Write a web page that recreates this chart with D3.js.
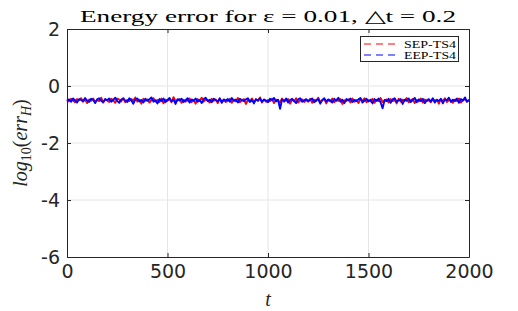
<!DOCTYPE html>
<html><head><meta charset="utf-8">
<script src="https://cdn.jsdelivr.net/npm/d3@7"></script>
<style>body{margin:0;background:#fff}svg{display:block}</style>
</head><body>
<script>
const xTicks = [0, 500, 1000, 1500, 2000];
const yTicks = [-6, -4, -2, 0, 2];
const seriesNames = ["SEP-TS4", "EEP-TS4"];
const seriesColors = ["#ff0000", "#0000ff"];
const tStep = 10;
const sepValues = [
-0.49,-0.54,-0.45,-0.51,-0.57,-0.46,-0.50,-0.43,-0.55,-0.48,-0.60,-0.47,-0.52,-0.44,-0.56,-0.49,-0.53,-0.41,-0.58,-0.47,
-0.51,-0.56,-0.45,-0.50,-0.59,-0.44,-0.48,-0.54,-0.42,-0.57,-0.49,-0.53,-0.46,-0.51,-0.40,-0.55,-0.48,-0.62,-0.45,-0.52,
-0.47,-0.58,-0.50,-0.43,-0.54,-0.49,-0.56,-0.44,-0.61,-0.48,-0.52,-0.45,-0.57,-0.39,-0.53,-0.50,-0.46,-0.59,-0.48,-0.55,
-0.51,-0.44,-0.57,-0.49,-0.62,-0.46,-0.53,-0.41,-0.55,-0.48,-0.50,-0.58,-0.45,-0.52,-0.47,-0.60,-0.43,-0.54,-0.49,-0.56,
-0.52,-0.45,-0.59,-0.48,-0.54,-0.42,-0.57,-0.50,-0.46,-0.63,-0.49,-0.53,-0.44,-0.56,-0.48,-0.51,-0.40,-0.58,-0.47,-0.55,
-0.49,-0.53,-0.45,-0.60,-0.48,-0.52,-0.57,-0.44,-0.55,-0.50,-0.46,-0.62,-0.48,-0.54,-0.43,-0.58,-0.51,-0.47,-0.56,-0.49,
-0.55,-0.45,-0.59,-0.48,-0.53,-0.41,-0.56,-0.50,-0.47,-0.61,-0.49,-0.54,-0.44,-0.57,-0.48,-0.52,-0.46,-0.63,-0.50,-0.53,
-0.47,-0.58,-0.44,-0.55,-0.49,-0.60,-0.46,-0.52,-0.43,-0.57,-0.50,-0.54,-0.45,-0.59,-0.48,-0.53,-0.42,-0.56,-0.51,-0.47,
-0.58,-0.46,-0.53,-0.49,-0.61,-0.45,-0.55,-0.48,-0.52,-0.42,-0.57,-0.50,-0.46,-0.60,-0.49,-0.54,-0.44,-0.58,-0.47,-0.53,
-0.50,-0.57,-0.45,-0.52,-0.48,-0.62,-0.46,-0.54,-0.43,-0.56,-0.49,-0.51,-0.59,-0.47,-0.53,-0.44,-0.58,-0.50,-0.46,-0.55,
-0.51];
const eepValues = [
-0.52,-0.47,-0.55,-0.44,-0.50,-0.58,-0.46,-0.49,-0.53,-0.42,-0.51,-0.56,-0.45,-0.48,-0.60,-0.47,-0.43,-0.52,-0.57,-0.46,
-0.50,-0.44,-0.55,-0.49,-0.41,-0.53,-0.59,-0.47,-0.45,-0.51,-0.56,-0.43,-0.50,-0.62,-0.48,-0.44,-0.54,-0.49,-0.58,-0.45,
-0.52,-0.47,-0.40,-0.55,-0.50,-0.61,-0.46,-0.53,-0.44,-0.57,-0.49,-0.42,-0.54,-0.48,-0.63,-0.46,-0.51,-0.45,-0.56,-0.50,
-0.43,-0.58,-0.47,-0.52,-0.44,-0.55,-0.49,-0.60,-0.46,-0.41,-0.53,-0.48,-0.57,-0.45,-0.50,-0.54,-0.44,-0.59,-0.47,-0.51,
-0.46,-0.55,-0.42,-0.52,-0.48,-0.58,-0.45,-0.50,-0.53,-0.47,-0.43,-0.56,-0.49,-0.61,-0.46,-0.52,-0.44,-0.55,-0.48,-0.51,
-0.57,-0.45,-0.50,-0.42,-0.54,-0.48,-0.80,-0.47,-0.53,-0.44,-0.58,-0.49,-0.45,-0.52,-0.60,-0.47,-0.43,-0.55,-0.50,-0.46,
-0.53,-0.48,-0.44,-0.57,-0.50,-0.46,-0.62,-0.49,-0.43,-0.54,-0.47,-0.51,-0.58,-0.45,-0.52,-0.41,-0.55,-0.48,-0.60,-0.46,
-0.50,-0.44,-0.56,-0.49,-0.53,-0.47,-0.42,-0.58,-0.51,-0.45,-0.54,-0.48,-0.61,-0.46,-0.52,-0.44,-0.57,-0.78,-0.49,-0.53,
-0.45,-0.59,-0.47,-0.43,-0.55,-0.50,-0.46,-0.63,-0.48,-0.52,-0.44,-0.56,-0.49,-0.42,-0.57,-0.47,-0.53,-0.45,-0.60,-0.50,
-0.46,-0.54,-0.43,-0.58,-0.49,-0.52,-0.45,-0.61,-0.47,-0.50,-0.41,-0.56,-0.48,-0.53,-0.44,-0.59,-0.46,-0.51,-0.40,-0.55,
-0.48];

const W = 518, H = 311;
const m = {left: 67, right: 49, top: 29, bottom: 54};
const svg = d3.select("body").append("svg").attr("width", W).attr("height", H);
const x = d3.scaleLinear().domain([0, 2000]).range([m.left, W - m.right]);
const y = d3.scaleLinear().domain([-6, 2]).range([H - m.bottom, m.top]);
const axisColor = "#262626";
const fmt = d => String(d);

// grid
svg.append("g").selectAll("line").data(xTicks.slice(1, -1)).join("line")
  .attr("x1", d => x(d)).attr("x2", d => x(d)).attr("y1", y(-6)).attr("y2", y(2))
  .attr("stroke", "#e6e6e6").attr("stroke-width", 1);
svg.append("g").selectAll("line").data(yTicks.slice(1, -1)).join("line")
  .attr("y1", d => y(d)).attr("y2", d => y(d)).attr("x1", x(0)).attr("x2", x(2000))
  .attr("stroke", "#e6e6e6").attr("stroke-width", 1);

// data
const series = [sepValues, eepValues];
const line = d3.line().x((d, i) => x(i * tStep)).y(d => y(d));
series.forEach((vals, k) => {
  svg.append("path").datum(vals).attr("d", line)
    .attr("fill", "none").attr("stroke", seriesColors[k]).attr("stroke-width", 1.9)
    .attr("stroke-linejoin", "round");
});

// axes
const fontTick = "'DejaVu Sans', sans-serif";
const gx = svg.append("g").attr("transform", `translate(0,${y(-6)})`)
  .call(d3.axisBottom(x).tickValues(xTicks).tickFormat(fmt).tickSizeInner(-4).tickSizeOuter(0).tickPadding(8));
const gx2 = svg.append("g").attr("transform", `translate(0,${y(2)})`)
  .call(d3.axisTop(x).tickValues(xTicks).tickSizeInner(-4).tickSizeOuter(0).tickFormat(""));
const gy = svg.append("g").attr("transform", `translate(${x(0)},0)`)
  .call(d3.axisLeft(y).tickValues(yTicks).tickFormat(fmt).tickSizeInner(-4).tickSizeOuter(0).tickPadding(7));
const gy2 = svg.append("g").attr("transform", `translate(${x(2000)},0)`)
  .call(d3.axisRight(y).tickValues(yTicks).tickSizeInner(-4).tickSizeOuter(0).tickFormat(""));
[gx, gx2, gy, gy2].forEach(g => {
  g.select(".domain").attr("stroke", axisColor);
  g.selectAll(".tick line").attr("stroke", axisColor);
  g.selectAll("text").attr("fill", axisColor).attr("font-family", fontTick).attr("font-size", 19);
});
gx.selectAll("text").attr("dy", "0.71em");

// title
svg.append("text").attr("x", 268).attr("y", 22).attr("text-anchor", "middle")
  .attr("font-family", "'Liberation Serif', serif").attr("font-size", 17).attr("fill", "#000")
  .attr("textLength", 376).attr("lengthAdjust", "spacingAndGlyphs")
  .text("Energy error for ε = 0.01, △t = 0.2");

// x label
svg.append("text").attr("x", 268).attr("y", 306).attr("text-anchor", "middle")
  .attr("font-family", "'Liberation Serif', serif").attr("font-style", "italic")
  .attr("font-size", 20).attr("fill", axisColor).text("t");

// y label
const yl = svg.append("text").attr("transform", `translate(27,${y(-2)}) rotate(-90)`)
  .attr("text-anchor", "middle").attr("font-family", "'Liberation Serif', serif")
  .attr("font-size", 20).attr("fill", axisColor);
yl.append("tspan").attr("font-style", "italic").text("log");
yl.append("tspan").attr("font-size", 14).attr("dy", 4).text("10");
yl.append("tspan").attr("dy", -4).text("(");
yl.append("tspan").attr("font-style", "italic").text("err");
yl.append("tspan").attr("font-style", "italic").attr("font-size", 14).attr("dy", 4).text("H");
yl.append("tspan").attr("dy", -4).text(")");

// legend
const lg = svg.append("g");
lg.append("rect").attr("x", 360.5).attr("y", 36.5).attr("width", 98).attr("height", 25)
  .attr("fill", "#fff").attr("stroke", axisColor).attr("stroke-width", 1);
seriesNames.forEach((name, k) => {
  const ly = 44 + k * 11;
  lg.append("line").attr("x1", 364).attr("x2", 400).attr("y1", ly).attr("y2", ly)
    .attr("stroke", seriesColors[k]).attr("stroke-width", 1).attr("stroke-dasharray", "7,5");
  lg.append("text").attr("x", 404).attr("y", ly + 3.5)
    .attr("font-family", "'Liberation Serif', serif").attr("font-size", 10.5).attr("fill", "#000")
    .attr("textLength", 52).attr("lengthAdjust", "spacingAndGlyphs").text(name);
});
</script>
</body></html>
